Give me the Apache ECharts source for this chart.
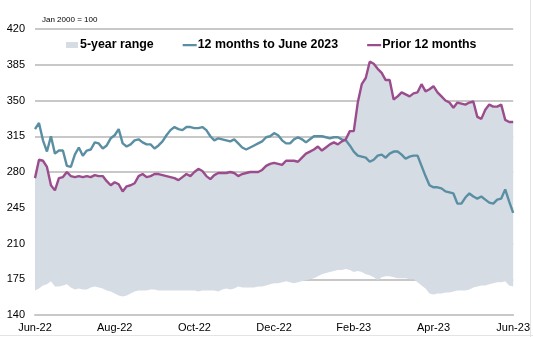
<!DOCTYPE html>
<html>
<head>
<meta charset="utf-8">
<script src="https://cdn.jsdelivr.net/npm/echarts@6/dist/echarts.min.js"></script>
<style>
  html, body { margin: 0; padding: 0; background: #fff; }
  #chart { width: 533px; height: 337px; }
</style>
</head>
<body>
<div id="chart"></div>
<script>
// Index level, Jan 2000 = 100; ten readings per month from Jun-22 to Jun-23
const xTickLabels = ['Jun-22', 'Aug-22', 'Oct-22', 'Dec-22', 'Feb-23', 'Apr-23', 'Jun-23'];

const months12 = [
  322, 328, 311, 300, 315, 298, 301, 301, 286, 285,
  297, 304, 296, 301, 302, 309, 308, 303, 306, 313,
  316, 322, 308, 305, 307, 311, 312, 309, 307, 307,
  303, 306, 310, 316, 321, 324, 322, 321, 324, 324,
  323, 323, 324, 321, 315, 311, 313, 312, 311, 310,
  312, 308, 304, 302, 304, 306, 308, 310, 314, 315,
  318, 316, 311, 308, 308, 312, 314, 312, 309, 312,
  315, 315, 315, 314, 313, 314, 314, 312, 311, 306,
  300, 296, 295, 294, 290, 292, 296, 297, 294, 298,
  300, 300, 297, 293, 295, 296, 296, 286, 276, 267,
  265, 265, 264, 261, 260, 259, 249, 249, 255, 259,
  256, 254, 256, 253, 250, 249, 253, 254, 263, 251,
  240
];

const prior12 = [
  274, 292, 291, 285, 267, 262, 274, 275, 280, 276,
  275, 276, 275, 276, 275, 277, 276, 276, 271, 267,
  270, 268, 261, 266, 267, 269, 276, 278, 275, 276,
  278, 278, 277, 276, 275, 274, 272, 275, 278, 276,
  280, 283, 281, 276, 273, 277, 279, 279, 279, 280,
  279, 276, 278, 279, 280, 280, 280, 282, 286, 288,
  289, 288, 287, 291, 291, 291, 290, 294, 298, 300,
  302, 305, 301, 304, 307, 309, 307, 310, 312, 320,
  320, 348, 366, 372, 388, 386, 381, 377, 370, 370,
  351, 354, 358, 356, 354, 357, 358, 366, 359, 361,
  364, 358, 354, 350, 348, 343, 348, 347, 346, 348,
  349, 334, 332, 341, 346, 344, 344, 346, 331, 329,
  329
];

// Lower edge of the 5-year range (its upper edge is the prior-12-months path)
const rangeLow = [
  164, 166, 169, 170, 173, 168, 168, 169, 170, 167,
  165, 166, 165, 165, 167, 168, 167, 166, 164, 163,
  161, 159, 158, 159, 161, 163, 164, 164, 164, 165,
  165, 164, 164, 164, 164, 164, 164, 164, 164, 164,
  164, 163, 164, 164, 164, 164, 163, 165, 166, 165,
  166, 168, 167, 167, 167, 167, 168, 168, 169, 170,
  171, 171, 172, 173, 172, 171, 172, 173, 174, 175,
  176, 178, 180, 181, 182, 183, 184, 184, 185, 184,
  182, 183, 182, 180, 179, 177, 174, 177, 178, 178,
  177, 176, 176, 176, 175, 175, 172, 169, 166, 161,
  160, 161, 161, 162, 162, 163, 164, 164, 164, 165,
  167, 168, 169, 169, 170, 171, 172, 172, 173, 169,
  168
];
const rangeHigh = prior12;

// Dates: ten readings per month (days 1, 4, ..., 28), closing on 1 Jun 2023
const dates = [];
for (let m = 0; m < 12; m++) {
  const y = 2022 + Math.floor((5 + m) / 12);
  const mo = (5 + m) % 12;
  for (let k = 0; k < 10; k++) {
    dates.push(y + '-' + String(mo + 1).padStart(2, '0') + '-' + String(1 + 3 * k).padStart(2, '0'));
  }
}
dates.push('2023-06-01');

const rangeSpan = rangeHigh.map((v, i) => v - rangeLow[i]);

const TEAL = '#5a8ea2';
const PURPLE = '#9b4c8c';
const BAND = '#d6dce4';
const GRID = '#c8c8c8';
const FONT = 'Liberation Sans, Arial, sans-serif';

// Thin bar used as the legend key for the two lines (tiny corner dots keep the box 14x8)
const LINE_KEY = 'path://M0,3H14V5.2H0Z M0,0H0.01V0.01H0Z M0,8H0.01V8.01H0Z';

const chart = echarts.init(document.getElementById('chart'), null, { renderer: 'canvas' });

chart.setOption({
  animation: false,
  backgroundColor: '#ffffff',
  title: {
    text: 'Jan 2000 = 100',
    left: 37,
    top: 11,
    textStyle: { fontFamily: FONT, fontSize: 8, fontWeight: 'normal', color: '#000' }
  },
  legend: {
    left: 60,
    top: 34,
    itemWidth: 14,
    itemHeight: 8,
    itemGap: 29,
    textStyle: { fontFamily: FONT, fontSize: 12.4, fontWeight: 'bold', color: '#000', padding: [0, 0, 0, -4] },
    data: [
      { name: '5-year range', icon: 'path://M1,1H13V7H1Z M0,0H0.01V0.01H0Z M14,8H14.01V8.01H14Z', itemStyle: { color: BAND } },
      { name: '12 months to June 2023', icon: LINE_KEY, itemStyle: { color: TEAL } },
      { name: 'Prior 12 months', icon: LINE_KEY, itemStyle: { color: PURPLE } }
    ]
  },
  grid: { left: 35, right: 18, top: 29, bottom: 22, containLabel: false },
  xAxis: {
    type: 'category',
    data: dates,
    boundaryGap: false,
    axisLine: { show: true, lineStyle: { color: GRID, width: 2 } },
    axisTick: { show: false },
    splitLine: { show: false },
    axisLabel: {
      interval: 19,
      margin: 7,
      fontFamily: FONT,
      fontSize: 11,
      color: '#000',
      formatter: (val, idx) => xTickLabels[Math.round(idx / 20)]
    }
  },
  yAxis: {
    type: 'value',
    min: 140,
    max: 420,
    interval: 35,
    axisLine: { show: false },
    axisTick: { show: false },
    splitLine: { show: true, lineStyle: { color: GRID, width: 2 } },
    axisLabel: { margin: 10, fontFamily: FONT, fontSize: 11, color: '#000' }
  },
  graphic: [
    { type: 'line', silent: true, shape: { x1: 530.5, y1: 0, x2: 530.5, y2: 337 }, style: { stroke: '#e4e4e4', lineWidth: 1 } },
    { type: 'line', silent: true, shape: { x1: 0, y1: 335.5, x2: 533, y2: 335.5 }, style: { stroke: '#e4e4e4', lineWidth: 1 } }
  ],
  series: [
    {
      name: 'rangeBase',
      type: 'line',
      data: rangeLow,
      stack: 'range',
      symbol: 'none',
      lineStyle: { width: 0, opacity: 0 },
      silent: true,
      z: 1
    },
    {
      name: '5-year range',
      type: 'line',
      data: rangeSpan,
      stack: 'range',
      symbol: 'none',
      itemStyle: { color: BAND },
      lineStyle: { width: 0, opacity: 0 },
      areaStyle: { color: BAND, opacity: 1 },
      silent: true,
      z: 1
    },
    {
      name: '12 months to June 2023',
      type: 'line',
      data: months12,
      symbol: 'none',
      itemStyle: { color: TEAL },
      lineStyle: { color: TEAL, width: 2.4 },
      z: 3
    },
    {
      name: 'Prior 12 months',
      type: 'line',
      data: prior12,
      symbol: 'none',
      itemStyle: { color: PURPLE },
      lineStyle: { color: PURPLE, width: 2.4 },
      z: 4
    }
  ]
});
</script>
</body>
</html>
